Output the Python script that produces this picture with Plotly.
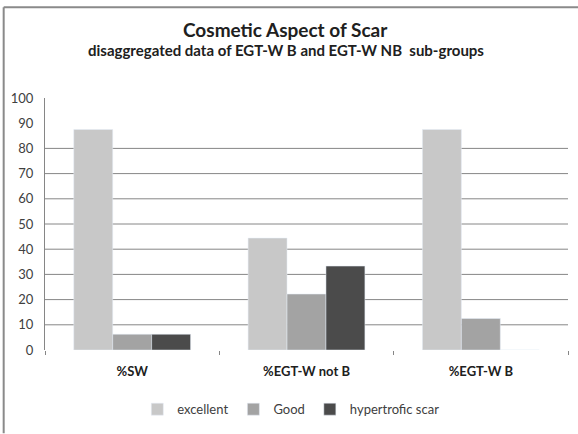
import plotly.graph_objects as go

categories = ["%SW", "%EGT-W not B", "%EGT-W B"]
excellent = [87.5, 44.4, 87.5]
good = [6.25, 22.2, 12.5]
hypertrofic = [6.25, 33.3, 0]
y_ticks = [0, 10, 20, 30, 40, 50, 60, 70, 80, 90, 100]
grid_values = [10, 20, 30, 40, 50, 60, 70, 80]

FONT = "Lato, 'Open Sans', Arial, sans-serif"

fig = go.Figure()
fig.add_trace(go.Bar(name="excellent", x=categories, y=excellent, marker_color="#c8c8c8"))
fig.add_trace(go.Bar(name="Good", x=categories, y=good, marker_color="#a3a3a3"))
fig.add_trace(go.Bar(name="hypertrofic scar", x=categories, y=hypertrofic, marker_color="#4b4b4b"))

shapes = []
for g in grid_values:
    shapes.append(dict(type="line", xref="paper", yref="y", x0=0, x1=1, y0=g, y1=g,
                       line=dict(color="#868686", width=1), layer="below"))
# outer frame (top and left)
shapes.append(dict(type="line", xref="paper", yref="paper", x0=-0.079, x1=1.03, y0=1.36, y1=1.36,
                   line=dict(color="#8a8a8a", width=2)))
shapes.append(dict(type="line", xref="paper", yref="paper", x0=-0.079, x1=-0.079, y0=1.36, y1=-0.33,
                   line=dict(color="#8a8a8a", width=2)))

fig.update_layout(
    width=578, height=434,
    margin=dict(l=45, r=10, t=98, b=81),
    paper_bgcolor="white", plot_bgcolor="white",
    barmode="group", bargap=0.33, bargroupgap=0,
    font=dict(family=FONT, color="#404040", size=13),
    showlegend=True,
    legend=dict(orientation="h", x=0.47, xanchor="center", y=-0.235, yanchor="middle",
                font=dict(size=13, color="#404040"), itemwidth=30, traceorder="normal"),
    shapes=shapes,
    annotations=[
        dict(text="<b>Cosmetic Aspect of Scar</b>", xref="paper", yref="paper", x=0.46, y=1.27,
             xanchor="center", yanchor="middle", showarrow=False,
             font=dict(size=19, color="#202020", family=FONT)),
        dict(text="<b>disaggregated data of EGT-W B and EGT-W NB  sub-groups</b>", xref="paper",
             yref="paper", x=0.46, y=1.19, xanchor="center", yanchor="middle", showarrow=False,
             font=dict(size=15, color="#202020", family=FONT)),
    ],
)
fig.update_yaxes(range=[0, 100], tickvals=y_ticks, showgrid=False, zeroline=False,
                 showline=True, linecolor="#868686", linewidth=1, ticks="",
                 ticklabelstandoff=8, tickfont=dict(size=13, color="#404040"))
fig.update_xaxes(showgrid=False, showline=False, ticks="outside", tickson="boundaries",
                 ticklen=4, tickcolor="#868686", tickwidth=1, ticklabelstandoff=12,
                 tickfont=dict(size=13, color="#202020", family=FONT),
                 tickprefix="<b>", ticksuffix="</b>")

fig.write_html("out.html", config={"displayModeBar": False},
               post_script="document.body.style.margin='0';")
